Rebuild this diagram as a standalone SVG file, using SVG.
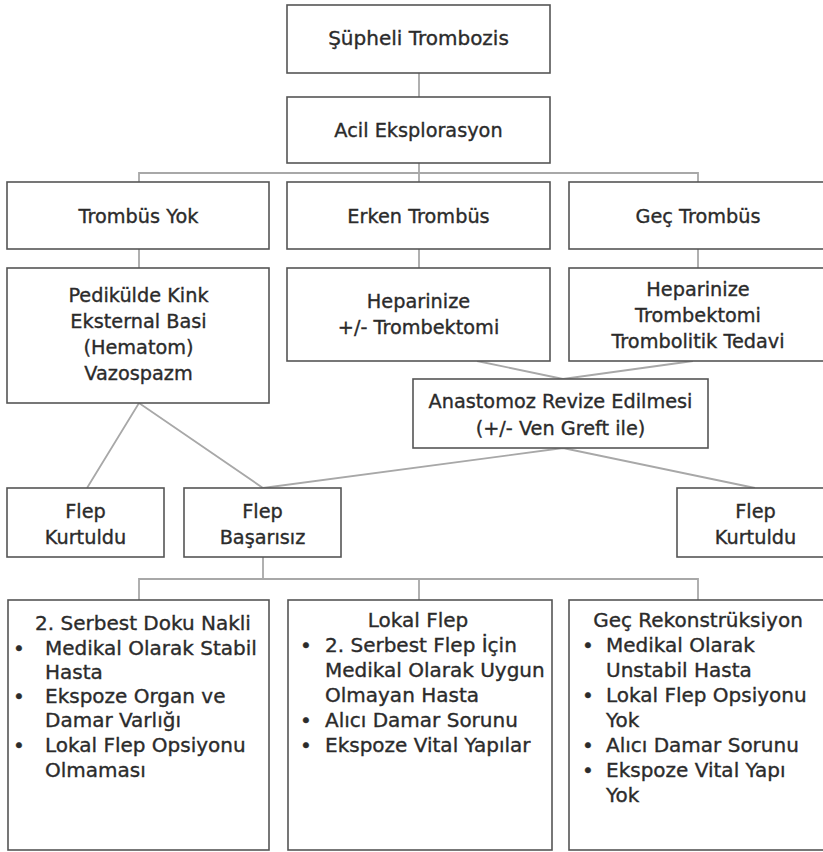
<svg xmlns="http://www.w3.org/2000/svg" width="823" height="852" viewBox="0 0 823 852">
<style>
.box{fill:#fff;stroke:#555;stroke-width:1.6}
.c{fill:none;stroke:#a8a8a8;stroke-width:1.8}
text{font-family:"DejaVu Sans","Noto Sans",sans-serif;font-size:19.3px;fill:#2b2b2b;stroke:#2b2b2b;stroke-width:0.35}
.m{text-anchor:middle}
.b{font-size:20px}
.t{font-size:20px}
</style>
<rect width="823" height="852" fill="#fff"/>
<g id="connectors">
<path class="c" d="M419 73V97M419 163V173M139 182V173H698V182M419 173V182M139 249V268M419 249V268M698 249V268"/>
<path class="c" d="M477 361L563 379L693 361"/>
<path class="c" d="M87 488L139 403L263 488L563 448L755 488"/>
<path class="c" d="M263 557V579M139 600V579H698V600M419 579V600"/>
</g>
<g id="n1"><rect class="box" x="287" y="5" width="263" height="68"/><text class="m t" x="418.5" y="45">Şüpheli Trombozis</text></g>
<g id="n2"><rect class="box" x="287" y="97" width="263" height="66"/><text class="m" x="418.5" y="137">Acil Eksplorasyon</text></g>
<g id="n3"><rect class="box" x="7" y="182" width="262" height="67"/><text class="m" x="138.5" y="223">Trombüs Yok</text></g>
<g id="n4"><rect class="box" x="287" y="182" width="263" height="67"/><text class="m" x="418.5" y="223">Erken Trombüs</text></g>
<g id="n5"><rect class="box" x="569" y="182" width="263" height="67"/><text class="m" x="698" y="223">Geç Trombüs</text></g>
<g id="n6"><rect class="box" x="7" y="268" width="262" height="135"/><text class="m" x="138.5" y="302">Pedikülde Kink</text><text class="m" x="138.5" y="328">Eksternal Basi</text><text class="m" x="138.5" y="354">(Hematom)</text><text class="m" x="138.5" y="380">Vazospazm</text></g>
<g id="n7"><rect class="box" x="287" y="268" width="263" height="93"/><text class="m" x="418.5" y="308">Heparinize</text><text class="m" x="418.5" y="334">+/- Trombektomi</text></g>
<g id="n8"><rect class="box" x="569" y="268" width="263" height="93"/><text class="m" x="698" y="296">Heparinize</text><text class="m" x="698" y="322">Trombektomi</text><text class="m" x="698" y="348">Trombolitik Tedavi</text></g>
<g id="n9"><rect class="box" x="413" y="379" width="295" height="69"/><text class="m" x="560.5" y="408">Anastomoz Revize Edilmesi</text><text class="m" x="560.5" y="435">(+/- Ven Greft ile)</text></g>
<g id="n10"><rect class="box" x="7" y="488" width="157" height="69"/><text class="m" x="85.5" y="518">Flep</text><text class="m" x="85.5" y="544">Kurtuldu</text></g>
<g id="n11"><rect class="box" x="184" y="488" width="157" height="69"/><text class="m" x="262.5" y="518">Flep</text><text class="m" x="262.5" y="544">Başarısız</text></g>
<g id="n12"><rect class="box" x="677" y="488" width="157" height="69"/><text class="m" x="755.5" y="518">Flep</text><text class="m" x="755.5" y="544">Kurtuldu</text></g>
<g id="n13"><rect class="box" x="8" y="600" width="261" height="250"/>
<text class="b m" x="143" y="630">2. Serbest Doku Nakli</text>
<text class="b" x="13" y="655">•</text><text class="b" x="45" y="655">Medikal Olarak Stabil</text>
<text class="b" x="45" y="679">Hasta</text>
<text class="b" x="13" y="703">•</text><text class="b" x="45" y="703">Ekspoze Organ ve</text>
<text class="b" x="45" y="727">Damar Varlığı</text>
<text class="b" x="13" y="752">•</text><text class="b" x="45" y="752">Lokal Flep Opsiyonu</text>
<text class="b" x="45" y="777">Olmaması</text></g>
<g id="n14"><rect class="box" x="288" y="600" width="264" height="250"/>
<text class="b m" x="418" y="627">Lokal Flep</text>
<text class="b" x="300" y="652">•</text><text class="b" x="325" y="652">2. Serbest Flep İçin</text>
<text class="b" x="325" y="677">Medikal Olarak Uygun</text>
<text class="b" x="325" y="702">Olmayan Hasta</text>
<text class="b" x="300" y="727">•</text><text class="b" x="325" y="727">Alıcı Damar Sorunu</text>
<text class="b" x="300" y="752">•</text><text class="b" x="325" y="752">Ekspoze Vital Yapılar</text></g>
<g id="n15"><rect class="box" x="569" y="600" width="263" height="250"/>
<text class="b m" x="698" y="627">Geç Rekonstrüksiyon</text>
<text class="b" x="582" y="652">•</text><text class="b" x="606" y="652">Medikal Olarak</text>
<text class="b" x="606" y="677">Unstabil Hasta</text>
<text class="b" x="582" y="702">•</text><text class="b" x="606" y="702">Lokal Flep Opsiyonu</text>
<text class="b" x="606" y="727">Yok</text>
<text class="b" x="582" y="752">•</text><text class="b" x="606" y="752">Alıcı Damar Sorunu</text>
<text class="b" x="582" y="777">•</text><text class="b" x="606" y="777">Ekspoze Vital Yapı</text>
<text class="b" x="606" y="802">Yok</text></g>
</svg>
